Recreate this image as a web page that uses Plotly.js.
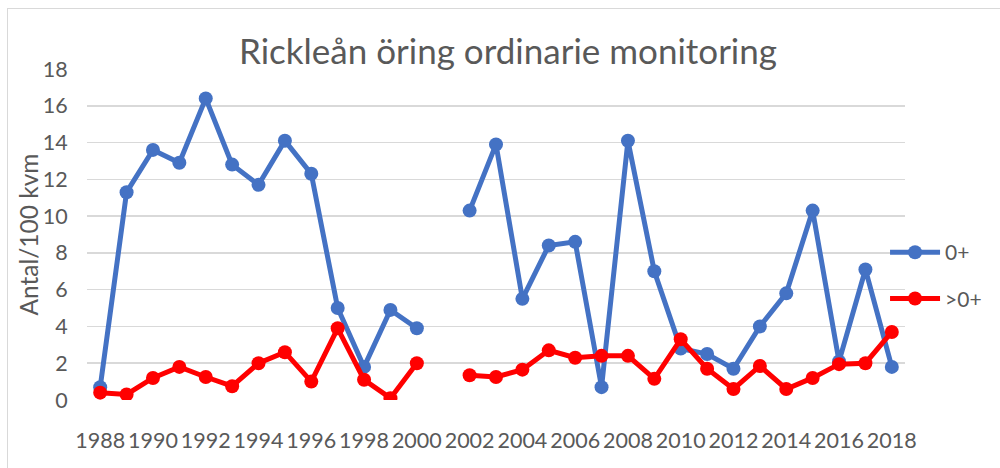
<!DOCTYPE html>
<html>
<head>
<meta charset="utf-8">
<script src="https://cdn.plot.ly/plotly-3.0.1.min.js"></script>
<style>
html,body{margin:0;padding:0;width:1000px;height:468px;overflow:hidden;background:#fff;}
#frame{position:absolute;left:7px;top:8px;width:1200px;height:600px;border:1.5px solid #d9d9d9;box-sizing:border-box;}
#chart{position:absolute;left:0;top:0;width:1000px;height:468px;}
</style>
</head>
<body>
<div id="frame"></div>
<div id="chart"></div>
<script>
const years = [1988,1989,1990,1991,1992,1993,1994,1995,1996,1997,1998,1999,2000,2001,2002,2003,2004,2005,2006,2007,2008,2009,2010,2011,2012,2013,2014,2015,2016,2017,2018];
const young = [0.7,11.3,13.6,12.9,16.4,12.8,11.7,14.1,12.3,5.0,1.8,4.9,3.9,null,10.3,13.9,5.5,8.4,8.6,0.7,14.1,7.0,2.8,2.5,1.7,4.0,5.8,10.3,2.1,7.1,1.8];
const older = [0.4,0.3,1.2,1.8,1.25,0.75,2.0,2.6,1.0,3.9,1.1,0.1,2.0,null,1.35,1.25,1.65,2.7,2.3,2.4,2.4,1.15,3.3,1.7,0.6,1.85,0.6,1.2,1.95,2.0,3.7];
const seriesNames = ["0+", ">0+"];
const xTickVals = [1988,1990,1992,1994,1996,1998,2000,2002,2004,2006,2008,2010,2012,2014,2016,2018];
const yAxisTitle = "Antal/100 kvm";

const font = "Lato, 'Open Sans', sans-serif";
const gray = "#595959";
const clear = "rgba(0,0,0,0)";

const traces = [
  {x: years, y: young, name: seriesNames[0], type: "scatter", mode: "lines+markers",
   line: {color: "#4472C4", width: 5}, marker: {color: "#4472C4", size: 14},
   connectgaps: false, legendgroup: "a"},
  {x: years, y: older, name: seriesNames[1], type: "scatter", mode: "lines+markers",
   line: {color: "#FF0000", width: 5}, marker: {color: "#FF0000", size: 14},
   connectgaps: false, legendgroup: "b"}
];

const layout = {
  width: 1000, height: 468,
  paper_bgcolor: clear, plot_bgcolor: clear,
  margin: {l: 87, r: 95, t: 69, b: 68},
  font: {family: font, color: gray, size: 21},
  title: {text: "Rickleån öring ordinarie monitoring", font: {family: font, size: 35, color: gray},
          x: 0.508, xanchor: "center", y: 0.89, yanchor: "middle"},
  xaxis: {range: [1987.5, 2018.5], tickvals: xTickVals, ticktext: xTickVals.map(String),
          showgrid: false, zeroline: false, showline: false, tickangle: 0,
          ticks: "outside", ticklen: 21, tickcolor: clear,
          tickfont: {family: font, size: 21.5, color: gray}, fixedrange: true},
  yaxis: {range: [0, 18], dtick: 2, showgrid: true, gridcolor: "#d9d9d9", gridwidth: 1.5,
          zeroline: false, showline: false,
          ticks: "outside", ticklen: 14, tickcolor: clear,
          tickfont: {family: font, size: 21.5, color: gray}},
  annotations: [{text: yAxisTitle, xref: "paper", yref: "paper", x: -59/818, y: 0.5,
                 xanchor: "center", yanchor: "middle", textangle: -90, showarrow: false,
                 font: {family: font, size: 24.5, color: gray}}],
  legend: {x: 0.9756, xanchor: "left", y: 0.376, yanchor: "middle", itemwidth: 50,
           font: {family: font, size: 21, color: gray}, tracegroupgap: 16,
           bgcolor: clear},
  showlegend: true
};

Plotly.newPlot("chart", traces, layout, {staticPlot: true});
</script>
</body>
</html>
